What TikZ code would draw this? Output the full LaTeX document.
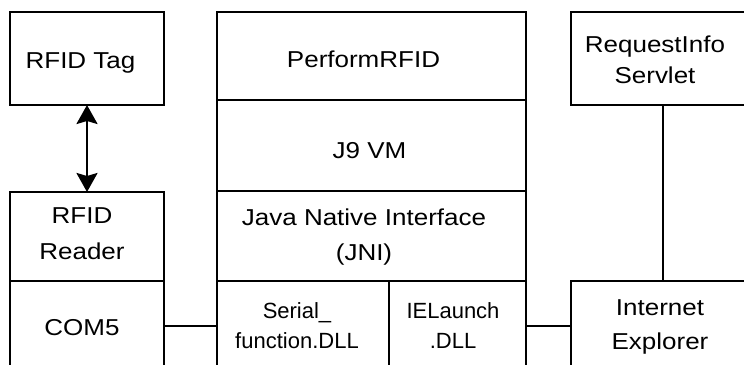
\documentclass[tikz,border=0pt]{standalone}
\usepackage{fontspec}
\setmainfont[FakeStretch=1.13]{Liberation Sans}
\newfontfamily\plainsans{Liberation Sans}
\usetikzlibrary{arrows.meta}
\tikzset{
  box/.style={draw, line width=2.9pt, rectangle, inner sep=0pt, outer sep=0pt, anchor=north west},
  lbl/.style={font=\fontsize{23}{#1}\selectfont, align=center, inner sep=0pt, anchor=base},
  lbl/.default=34,
  dlllbl/.style={font=\plainsans\fontsize{22}{#1}\selectfont, align=center, inner sep=0pt, anchor=base},
  dlllbl/.default=30,
  conn/.style={line width=2.9pt},
  biarrow/.style={line width=2.4pt, {Stealth[length=19pt,width=21pt,inset=3pt]}-{Stealth[length=19pt,width=21pt,inset=3pt]}}
}
\begin{document}
\begin{tikzpicture}[x=1pt,y=-1pt]
\useasboundingbox (0,0) rectangle (744,364);
\clip (0,0) rectangle (744,364);
% boxes
\node[box, minimum width=154pt, minimum height=93pt] (tag) at (10,12) {};
\node[box, minimum width=154pt, minimum height=89pt] (reader) at (10,192) {};
\node[box, minimum width=154pt, minimum height=130pt] (com5) at (10,281) {};
\node[box, minimum width=309pt, minimum height=88pt] (perform) at (217,12) {};
\node[box, minimum width=309pt, minimum height=91pt] (j9) at (217,100) {};
\node[box, minimum width=309pt, minimum height=90pt] (jni) at (217,191) {};
\node[box, minimum width=172pt, minimum height=130pt] (serial) at (217,281) {};
\node[box, minimum width=137pt, minimum height=130pt] (ielaunch) at (389,281) {};
\node[box, minimum width=200pt, minimum height=93pt] (request) at (571,12) {};
\node[box, minimum width=200pt, minimum height=130pt] (ie) at (571,281) {};
% labels (multi-line labels are placed at the baseline of their last line)
\node[lbl] (ttag) at (80.5,68) {RFID Tag};
\node[lbl=36] (treader) at (82,259) {RFID\\Reader};
\node[lbl] (tcom5) at (82,335) {COM5};
\node[lbl] (tperform) at (363.5,67) {PerformRFID};
\node[lbl] (tj9) at (369.5,158) {J9 VM};
\node[lbl=35] (tjni) at (364,260) {Java Native Interface\\(JNI)};
\node[dlllbl] (tserial) at (297,348) {Serial\_\\function.DLL};
\node[dlllbl] (tielaunch) at (453,348) {IELaunch\\.DLL};
\node[lbl=31] (trequest) at (655,83) {RequestInfo\\Servlet};
\node[lbl=34] (tie) at (660,349) {Internet\\Explorer};
% connectors
\draw[biarrow] (tag.south) -- (reader.north);
\draw[conn] (com5.east |- 0,326) -- (serial.west |- 0,326);
\draw[conn] (ielaunch.east |- 0,326) -- (ie.west |- 0,326);
\draw[conn] (request.south -| 663,0) -- (ie.north -| 663,0);
\end{tikzpicture}
\end{document}
